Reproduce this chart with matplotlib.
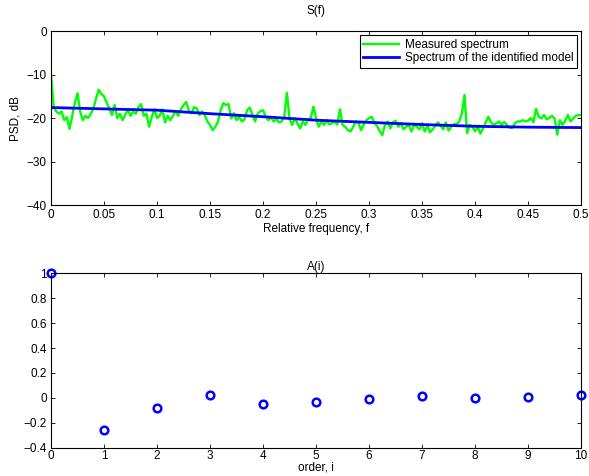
import numpy as np
import matplotlib
matplotlib.use("Agg")
import matplotlib.pyplot as plt

plt.rcParams["font.family"] = ["Liberation Sans", "DejaVu Sans"]
plt.rcParams["font.size"] = 8.5

# Measured spectrum, dB, read every 0.0025 in relative frequency
freq_step = 0.0025
measured_db = [
    -10.1, -17.5, -18.5, -19.0, -18.5, -20.5, -19.8, -22.5, -19.5, -16.5,
    -14.3, -18.5, -20.5, -19.5, -20.0, -19.0, -17.8, -15.5, -13.5, -14.5,
    -15.0, -16.5, -17.8, -19.3, -17.0, -20.0, -19.0, -20.5, -19.3, -18.0,
    -19.5, -18.5, -19.0, -17.5, -16.8, -19.5, -19.0, -22.0, -19.8, -18.0,
    -20.0, -19.5, -18.0, -21.0, -19.5, -20.5, -19.5, -18.5, -19.5, -18.0,
    -17.0, -16.3, -18.3, -18.9, -17.5, -17.8, -19.3, -18.5, -19.3, -20.8,
    -21.6, -22.8, -22.0, -20.8, -18.2, -16.6, -17.0, -16.8, -20.1, -18.9,
    -20.5, -19.7, -20.8, -20.3, -18.2, -17.6, -19.3, -20.8, -19.0, -18.4,
    -18.2, -19.7, -20.5, -19.8, -20.8, -20.2, -21.0, -20.8, -19.7, -14.2,
    -20.1, -21.6, -20.0, -21.3, -22.4, -20.8, -21.6, -20.3, -20.0, -17.4,
    -20.0, -22.0, -20.8, -21.6, -20.5, -21.5, -21.2, -20.8, -21.5, -18.0,
    -21.6, -22.0, -22.8, -23.1, -22.0, -20.8, -21.2, -22.8, -21.5, -20.5,
    -20.0, -19.7, -21.2, -21.8, -23.0, -23.9, -21.6, -20.8, -22.4, -21.0,
    -20.6, -22.0, -21.2, -22.6, -22.0, -21.6, -23.1, -21.5, -22.0, -22.6,
    -21.2, -23.1, -21.8, -23.3, -22.6, -21.8, -21.0, -21.8, -22.6, -21.0,
    -22.9, -22.0, -21.4, -21.4, -20.8, -19.0, -14.7, -23.5, -21.6, -22.0,
    -23.0, -22.0, -23.6, -22.4, -21.0, -19.7, -21.0, -21.6, -21.2, -20.8,
    -21.6, -20.9, -21.6, -22.2, -22.3, -21.2, -20.8, -20.8, -20.5, -20.8,
    -20.6, -20.0, -21.0, -17.9, -19.7, -20.1, -19.3, -20.3, -20.0, -19.5,
    -20.1, -23.8, -20.5, -21.6, -20.6, -19.3, -20.8, -20.1, -19.5, -19.3,
    -19.3,
]

# Spectrum of the identified model, dB
model_freq = [0.0, 0.05, 0.1, 0.15, 0.2, 0.25, 0.3, 0.35, 0.4, 0.45, 0.5]
model_db = [-17.6, -17.9, -18.2, -19.0, -19.7, -20.5, -21.0, -21.5, -21.9, -22.1, -22.2]

# AR coefficients A(i)
order = [0, 1, 2, 3, 4, 5, 6, 7, 8, 9, 10]
coef = [1.0, -0.255, -0.078, 0.021, -0.051, -0.032, -0.008, 0.016, -0.005, 0.008, 0.021]

freq = np.arange(len(measured_db)) * freq_step

fig = plt.figure(figsize=(5.89, 4.76), dpi=100)
ax1 = fig.add_axes([0.0866, 0.5693, 0.9, 0.3655])
ax2 = fig.add_axes([0.0866, 0.0595, 0.9, 0.3664])

ax1.plot(freq, measured_db, color="#00ff00", lw=1.7, label="Measured spectrum")
ax1.plot(model_freq, model_db, color="#0000ff", lw=2, label="Spectrum of the identified model")
ax1.set_xlim(0, 0.5)
ax1.set_ylim(-40, 0)
ax1.set_xticks(np.arange(0, 0.51, 0.05))
ax1.set_xticklabels(["0", "0.05", "0.1", "0.15", "0.2", "0.25", "0.3", "0.35", "0.4", "0.45", "0.5"])
ax1.set_yticks([-40, -30, -20, -10, 0])
ax1.set_title("S(f)", fontsize=8.5, pad=12)
ax1.set_xlabel("Relative frequency, f", labelpad=1)
ax1.set_ylabel("PSD, dB", labelpad=4)
leg = ax1.legend(loc="upper right", fancybox=False, edgecolor="black", framealpha=1,
                 borderaxespad=0.35, handlelength=3.0, borderpad=0.3, labelspacing=0.15,
                 handletextpad=0.5)
leg.get_frame().set_linewidth(0.8)

ax2.plot(order, coef, "o", mfc="none", mec="#0000ff", mew=1.8, ms=5.5, clip_on=False)
ax2.set_xlim(0, 10)
ax2.set_ylim(-0.4, 1)
ax2.set_xticks(order)
ax2.set_yticks([-0.4, -0.2, 0, 0.2, 0.4, 0.6, 0.8, 1])
ax2.set_yticklabels(["\u22120.4", "\u22120.2", "0", "0.2", "0.4", "0.6", "0.8", "1"])
ax2.set_title("A(i)", fontsize=8.5, pad=2)
ax2.set_xlabel("order, i", labelpad=-1)

for ax in (ax1, ax2):
    ax.tick_params(direction="in", top=True, right=True, length=3, width=0.6, pad=3)
    for sp in ax.spines.values():
        sp.set_linewidth(0.8)
ax2.tick_params(axis="x", pad=2)

fig.savefig("out.png", dpi=100)
